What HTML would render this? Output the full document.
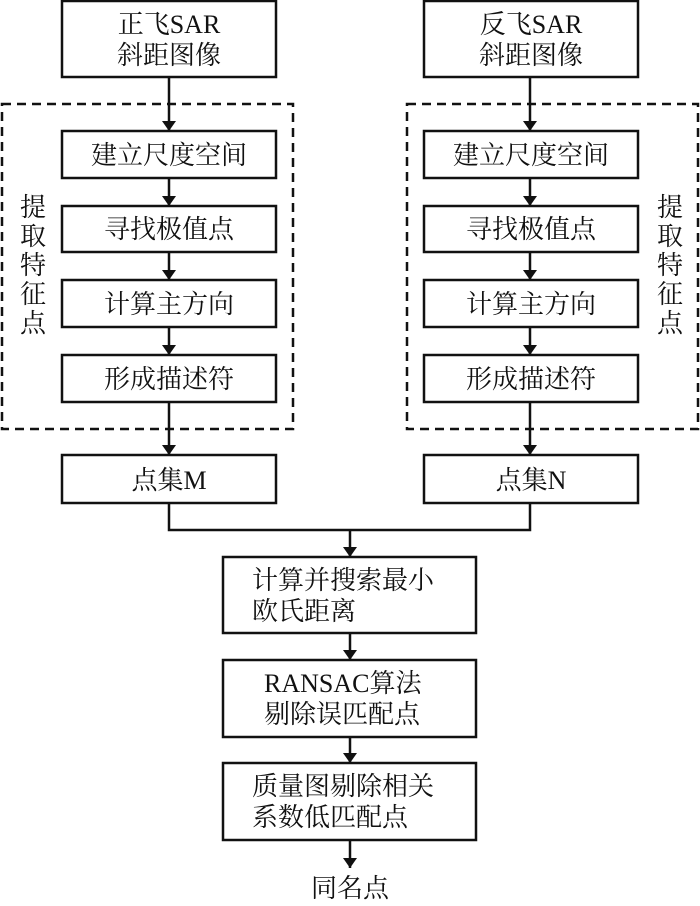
<!DOCTYPE html>
<html><head><meta charset="utf-8"><style>
html,body{margin:0;padding:0;background:#fff}
svg text{font-family:"Liberation Serif","Noto Serif CJK SC",serif;font-size:26px;fill:#111}
</style></head><body>
<svg width="700" height="901" xmlns="http://www.w3.org/2000/svg">
<defs><marker id="a" viewBox="0 0 10 14" refX="10" refY="7" markerWidth="10" markerHeight="14" markerUnits="userSpaceOnUse" orient="auto"><path d="M0,0 L10,7 L0,14 z" fill="#111"/></marker></defs>
<g fill="none" stroke="#111" stroke-width="2.5">
<rect x="62" y="1" width="214" height="76"/>
<rect x="424" y="1" width="214" height="76"/>
<rect x="62" y="131" width="214" height="47"/>
<rect x="62" y="206" width="214" height="46"/>
<rect x="62" y="280" width="214" height="47"/>
<rect x="62" y="355" width="214" height="47"/>
<rect x="424" y="131" width="214" height="47"/>
<rect x="424" y="206" width="214" height="46"/>
<rect x="424" y="280" width="214" height="47"/>
<rect x="424" y="355" width="214" height="47"/>
<rect x="62" y="455" width="214" height="48"/>
<rect x="424" y="455" width="214" height="48"/>
<rect x="223" y="557" width="253" height="76"/>
<rect x="223" y="660" width="253" height="77"/>
<rect x="223" y="763" width="253" height="77"/>
<rect x="2" y="104" width="291" height="325" stroke-dasharray="9,6"/>
<rect x="407" y="104" width="291" height="325" stroke-dasharray="9,6"/>
<g marker-end="url(#a)">
<line x1="169" y1="77" x2="169" y2="131"/>
<line x1="169" y1="178" x2="169" y2="206"/>
<line x1="169" y1="252" x2="169" y2="280"/>
<line x1="169" y1="327" x2="169" y2="355"/>
<line x1="169" y1="402" x2="169" y2="455"/>
<line x1="530" y1="77" x2="530" y2="131"/>
<line x1="530" y1="178" x2="530" y2="206"/>
<line x1="530" y1="252" x2="530" y2="280"/>
<line x1="530" y1="327" x2="530" y2="355"/>
<line x1="530" y1="402" x2="530" y2="455"/>
<line x1="350" y1="530" x2="350" y2="557"/>
<line x1="350" y1="633" x2="350" y2="660"/>
<line x1="350" y1="737" x2="350" y2="763"/>
<line x1="350" y1="840" x2="350" y2="868"/>
</g>
<polyline points="169,503 169,530 530,530 530,503"/>
</g>
<g text-anchor="middle">
<text x="169" y="33">正飞SAR</text><text x="169" y="64">斜距图像</text>
<text x="531" y="33">反飞SAR</text><text x="531" y="64">斜距图像</text>
<text x="169" y="164">建立尺度空间</text><text x="169" y="238">寻找极值点</text>
<text x="169" y="313">计算主方向</text><text x="169" y="388">形成描述符</text>
<text x="531" y="164">建立尺度空间</text><text x="531" y="238">寻找极值点</text>
<text x="531" y="313">计算主方向</text><text x="531" y="388">形成描述符</text>
<text x="169" y="489">点集M</text><text x="531" y="489">点集N</text>
<text x="350" y="897">同名点</text>
</g>
<g text-anchor="middle">
<text x="33" y="216">提</text><text x="33" y="245">取</text><text x="33" y="274">特</text><text x="33" y="303">征</text><text x="33" y="332">点</text>
<text x="670" y="216">提</text><text x="670" y="245">取</text><text x="670" y="274">特</text><text x="670" y="303">征</text><text x="670" y="332">点</text>
</g>
<text x="252" y="589">计算并搜索最小</text><text x="252" y="620">欧氏距离</text>
<text x="264" y="692">RANSAC算法</text><text x="264" y="723">剔除误匹配点</text>
<text x="252" y="795">质量图剔除相关</text><text x="252" y="826">系数低匹配点</text>
</svg>
</body></html>
